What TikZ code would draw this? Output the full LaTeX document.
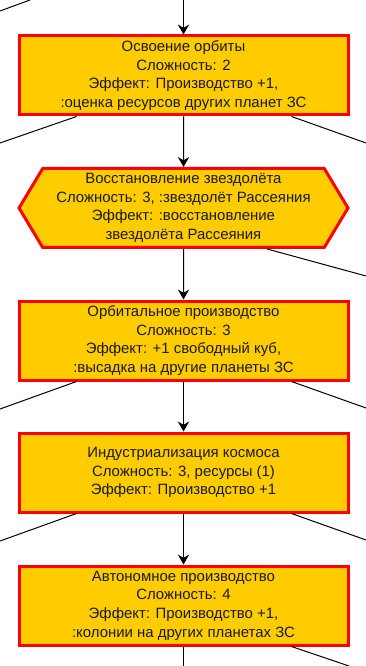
\documentclass[tikz,border=0pt]{standalone}
\usepackage{fontspec}
\setmainfont{Liberation Sans}
\usepackage{tikz}
\usetikzlibrary{arrows.meta,positioning,shapes.symbols,calc}
\definecolor{cfill}{HTML}{FFCC00}
\definecolor{cedge}{HTML}{FF0000}
\definecolor{ctext}{HTML}{1A1A1A}
\tikzset{
  box/.style={draw=cedge, line width=2.25pt, fill=cfill, align=center, inner sep=0pt,
    minimum width=246.75pt, minimum height=59.25pt, text=ctext,
    font=\fontsize{11.2}{14}\selectfont},
  techn/.style={box, rectangle},
  hexn/.style={box, shape=signal, signal to=west and east, signal pointer angle=118},
  pre/.style={-{Stealth[length=7.5pt, width=8.5pt, inset=2.5pt]}, line width=0.75pt},
  link/.style={line width=0.75pt},
}
\begin{document}
\begin{tikzpicture}[x=0.75pt,y=-0.75pt]
\useasboundingbox (0,0) rectangle (366,666);
% stages of the branch
\node[techn] (orbit) at (183.5,75.5) {Освоение орбиты\\Сложность: 2\\Эффект: Производство +1,\\:оценка ресурсов других планет ЗС};
\node[hexn] (ship) at (183.5,208) {Восстановление звездолёта\\Сложность: 3, :звездолёт Рассеяния\\Эффект: :восстановление\\звездолёта Рассеяния};
\node[techn] (orbprod) at (183.5,340.5) {Орбитальное производство\\Сложность: 3\\Эффект: +1 свободный куб,\\:высадка на другие планеты ЗС};
\node[techn] (indus) at (183.5,472.5) {Индустриализация космоса\\Сложность: 3, ресурсы (1)\\Эффект: Производство +1};
\node[techn] (auto) at (183.5,605.5) {Автономное производство\\Сложность: 4\\Эффект: Производство +1,\\:колонии на других планетах ЗС};
% main chain
\coordinate (top) at (183.5,0);
\coordinate (bot) at (183.5,666);
\draw[pre] (top) -- (orbit);
\draw[pre] (orbit) -- (ship);
\draw[pre] (ship) -- (orbprod);
\draw[pre] (orbprod) -- (indus);
\draw[pre] (indus) -- (auto);
\draw[link] (auto) -- (bot);
% links leaving the page
\coordinate (tlA) at (0,11);
\coordinate (tlB) at (30,0);
\draw[link] (tlA) -- (tlB);
\coordinate (orbitL) at (0,143);
\coordinate (orbitR) at (366,143);
\draw[link] ($(orbit.south west)+(59,0)$) -- (orbitL);
\draw[link] ($(orbit.south east)+(-58,0)$) -- (orbitR);
\coordinate (shipR) at (366,276);
\draw[link] ($(ship.south east)+(-58,0)$) -- (shipR);
\coordinate (orbprodL) at (0,409);
\coordinate (orbprodR) at (366,408);
\draw[link] ($(orbprod.south west)+(59,0)$) -- (orbprodL);
\draw[link] ($(orbprod.south east)+(-58,0)$) -- (orbprodR);
\coordinate (indusL) at (0,541);
\coordinate (indusR) at (366,540);
\draw[link] ($(indus.south west)+(59,0)$) -- (indusL);
\draw[link] ($(indus.south east)+(-58,0)$) -- (indusR);
\coordinate (autoR) at (349,666);
\draw[link] ($(auto.south east)+(-58,0)$) -- (autoR);
\end{tikzpicture}
\end{document}
